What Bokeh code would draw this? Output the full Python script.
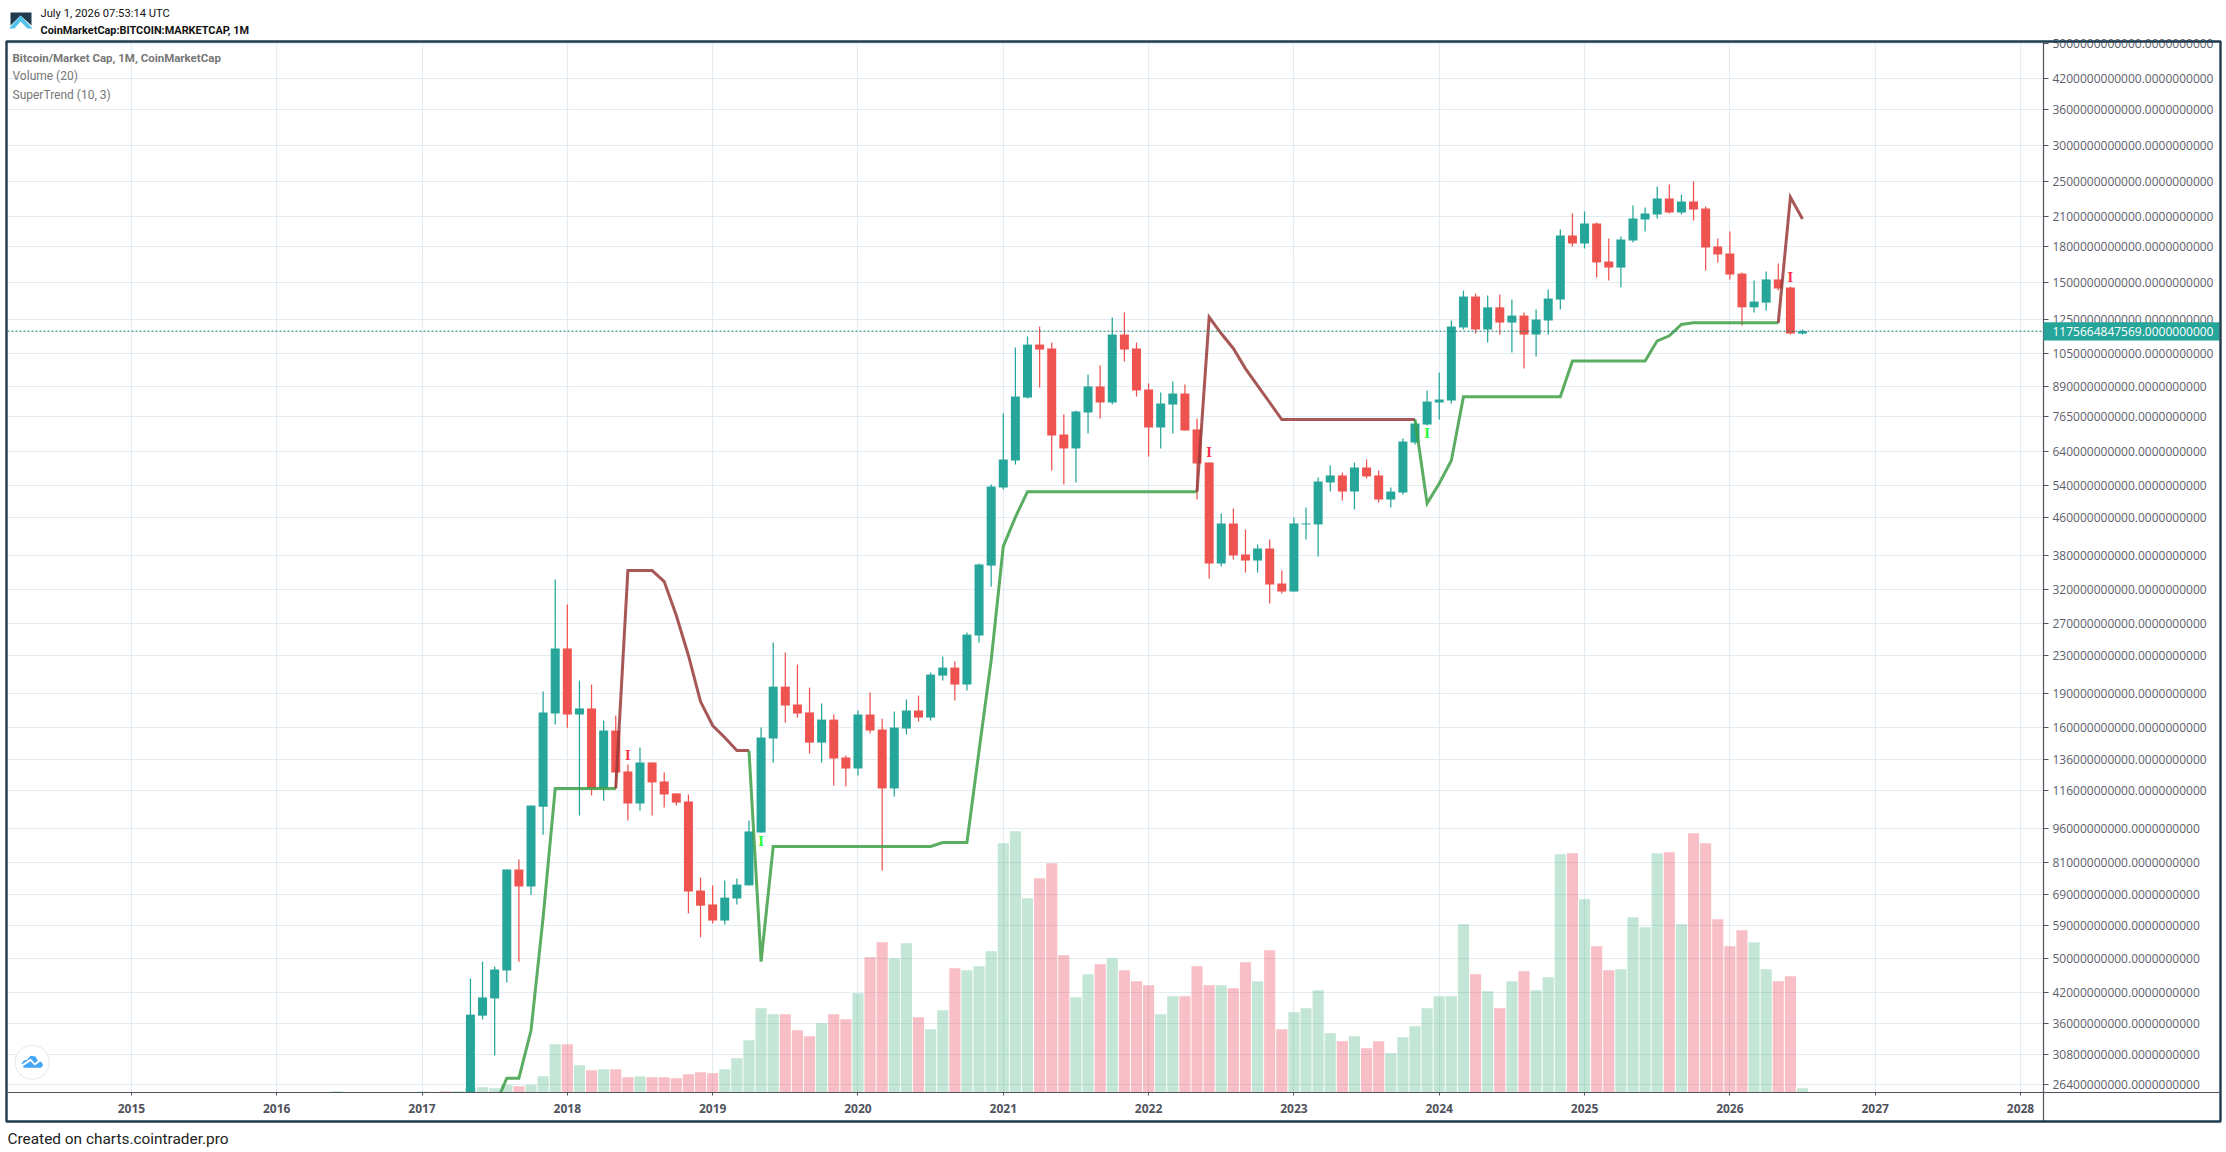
import numpy as np
from bokeh.plotting import figure
from bokeh.layouts import column
from bokeh.models import Range1d, LinearScale, FixedTicker, CustomJSTickFormatter, Span
from bokeh.core.properties import value
from bokeh.embed import file_html
from bokeh.resources import INLINE

# ---------- data (market cap in billions of USD; months counted from Jan 2018 = 0) ----------
first_month = -8
opens = [24.0,37.4,40.8,46.95,78.1,71.7,107.2,171.4,237.8,170.5,175.8,117.5,157.3,128,108.9,133.9,121.7,114.6,110,70.25,65.5,60.4,67.5,72.1,94.1,151.1,196.2,179.3,172.3,148,166.2,137.3,129.9,170.5,158.1,117.5,158.9,174,167.9,207.4,216,198.3,253.8,361,535,613,841.8,1099,1078,698.8,651.4,780.6,890,821,1156,1078,876.6,723.8,812.6,859,716.6,606.8,364.8,446.4,381.8,370.4,393.5,329.9,316.8,444.2,444.2,548.7,568.5,524.3,591.7,568.5,503.6,521.7,671.2,734.8,821,829.3,1198,1400,1186,1326,1228,1272,1156,1241,1379,1905,1829,2022,1670,1620,1857,2064,2116,2294,2138,2260,2182,1801,1739,1572,1326,1358,1526,1465,1162]
highs = [45.1,49.1,47.9,78.1,82.1,107.8,191.4,336.6,296.7,202.3,198.3,165.4,169.7,132.5,144.4,133.9,127.3,114.6,114,75,72.1,73.9,74.6,99.95,159.7,245,233,219.3,195.2,180.2,170.5,138.7,174,190.5,167,173.1,183.9,187.6,210.7,228.3,222.7,257.7,364.8,543,776.7,1083,1145,1204,1111,772.7,788.6,945,989,1260,1292,1111,903.6,863.4,912.6,899,757.4,606.8,469.4,481.3,433,401.5,411.8,352.2,459.9,483.7,562.7,597.9,577,606.8,616.1,582.9,535,684.8,753.6,872.2,955,1241,1443,1421,1407,1414,1379,1292,1312,1450,1963,2127,2149,2032,1876,1894,2215,2193,2437,2462,2341,2499,2204,1876,1943,1580,1518,1588,1654,1473,1186]
lows = [24.0,36.7,30.6,44.2,49.1,68.8,93.1,162.1,159.6,102.5,113.4,110.5,117.5,99.95,105.1,102.5,106.7,107.8,62.6,55.5,59.5,59.2,65.5,72.1,94.1,133.9,163.7,167.9,140.1,133.9,119.3,118.7,125.4,155,77.7,112.8,154.2,164.6,165.4,202.3,183,192.4,245,324.7,529.6,600.6,837.7,885.6,582.9,543,548.7,702.3,757.4,812.6,1009,846,625.4,651.4,702.3,713,503.6,338.3,359.5,372.3,348.6,348.6,298.2,313.6,316.8,411.8,378,524.3,501.1,478.9,559.9,496,483.7,516.4,664.5,731,753.6,817,1186,1162,1111,1156,1056,974,1035,1156,1312,1801,1783,1541,1518,1465,1838,1943,2074,2127,2116,2053,1596,1662,1526,1210,1292,1305,1443,1156,1156]
closes = [37.6,41.0,47.2,78.1,71.7,107.8,172.3,237.8,170.5,175.8,117.5,157.3,127.3,108.9,133.9,121.1,114,109.4,69.9,65.1,60.4,67.8,72.4,94.6,151.9,196.2,178.4,171.4,148,166.2,136.6,129.9,170.5,157.3,117.5,159.7,174,167.9,208.5,216,198.3,255,363,537.6,616,846,1099,1072,695.3,651.4,784.6,890,821,1156,1072,872.2,723.8,817,859,713,603.8,364.8,446.4,379.9,370.4,393.5,328.2,316.8,446.4,446.4,551.5,568.5,524.3,591.7,565.7,503.6,524.3,674.6,738.5,825,833.5,1204,1400,1186,1326,1228,1272,1156,1247,1386,1905,1829,2022,1662,1620,1866,2074,2127,2294,2138,2260,2171,1792,1730,1564,1326,1365,1526,1458,1162,1175.664847569]

# volume is drawn on its own hidden overlay scale (relative units)
vol_months = [-19,-12] + list(range(-10,103))
vol_values = [1.3,1,1.3,1.3,4.3,5.3,4.3,7.7,6.3,7.7,16.3,48.3,48.3,27.3,22.3,23.3,23.3,15.3,16.3,15.3,15.3,14.3,18.3,20.3,19.3,23.3,34.3,52.3,84.3,78.3,78.3,62.3,56.3,69.3,78.3,73.3,99.3,135.3,150.3,134.3,149.3,75.3,63.3,82.3,124.3,122.3,126.3,141.3,249.3,261.3,194.3,214.3,229.3,137.3,95.3,118.3,128.3,134.3,122.3,111.3,107.3,78.3,96.3,96.3,126.3,107.3,107.3,104.3,130.3,111.3,142.3,63.3,80.3,84.3,102.3,59.3,51.3,56.3,44.3,51.3,39.3,55.3,66.3,84.3,96.3,96.3,168.3,118.3,101.3,84.3,111.3,121.3,102.3,115.3,238.3,239.3,193.3,146.3,122.3,123.3,175.3,165.3,239.3,240.3,168.3,259.3,249.3,173.3,146.3,162.3,150.3,123.3,111.3,116.3,4.3]
vol_dirs = ("ggrggggg" "rggg" "rgrgrrgrrrrrr" "ggggg" "rrr" "g" "rr" "g" "rr" "gg" "r" "gg" "r" "gggggg" "rrr" "gg" "r" "g"
            "rrr" "gg" "rrr" "g" "rr" "g" "rr" "gggg" "r" "g" "rr" "ggggggg" "r" "g" "r" "g" "r" "ggg" "r" "g" "rr" "gggg" "r" "g"
            "rrrrr" "gg" "rr" "g")

st_up_m = [-6,-5,-4,-3,-2,-1,0,1,2,3,4]
st_up_v = [23.7,27.3,27.3,34.7,61.3,117.5,117.5,117.5,117.5,117.5,117.5]
st_dn1_m = [4,5,6,7,8,9,10,11,12,13,14,15]
st_dn1_v = [117.5,352.2,352.2,352.2,333.2,280.8,229.6,182,161.3,151.9,142.2,142.2]
st_up2_m = [15,16,17,30,31,33,34,35,36,37,38,52]
st_up2_v = [142.2,49.1,87.7,87.7,89.5,89.5,142.2,223.8,397.6,461,524,524]
st_dn2_m = [52,53,54,55,56,57,58,59,70]
st_dn2_v = [524,1262,1162,1078,974,894,821,753.6,753.6]
st_up3_m = [70,71,72,73,74,82,83,89,90,91,92,93,100]
st_up3_v = [753.6,494,546,613,845,845,1012,1012,1120,1149,1216,1227,1227]
st_dn3_m = [100,101,102]
st_dn3_v = [1227,2310,2070]

sig_sell_m = [5,53,101]
sig_sell_v = [138.7,635,1541]
sig_buy_m = [16,71]
sig_buy_v = [89.9,699]

year_labels = list(range(2015,2029))
price_ticks = [5000,4200,3600,3000,2500,2100,1800,1500,1250,1050,890,765,640,540,460,380,320,270,230,190,160,136,116,96,81,69,59,50,42,36,30.8,26.4]
last_price = 1175664847569.0

# ---------- main figure ----------
W, H = 2226, 1152
FL, FR, FT, FB = 7, 2043, 42, 1092
GREEN, RED = "#26a69a", "#ef5350"
p = figure(width=W, height=H, output_backend="svg", toolbar_location=None,
           y_axis_type="log", y_axis_location="right",
           x_range=Range1d(-46.23, 121.9), y_range=Range1d(25.4e9, 5034e9),
           min_border_left=FL, min_border_right=W-FR, min_border_top=FT, min_border_bottom=H-FB,
           background_fill_color="white", border_fill_color="white", outline_line_color=None,
           frame_align=False)
p.extra_y_scales = {"vol": LinearScale()}
p.extra_y_ranges = {"vol": Range1d(0, FB-FT)}

ticks = [float(t)*1e9 for t in price_ticks]
xt = [(y-2018)*12 for y in year_labels]
p.yaxis.ticker = FixedTicker(ticks=ticks)
p.yaxis.formatter = CustomJSTickFormatter(code="return tick.toFixed(10)")
p.yaxis.major_label_text_font = "Open Sans"
p.yaxis.major_label_text_font_size = "12px"
p.yaxis.major_label_text_color = "#5d606b"
p.yaxis.major_label_standoff = 4
p.yaxis.major_tick_out = 5
p.yaxis.major_tick_in = 0
p.yaxis.major_tick_line_color = "#50535e"
p.yaxis.minor_tick_line_color = None
p.yaxis.axis_line_color = "#50535e"
p.yaxis.axis_line_width = 1.2
p.xaxis.ticker = FixedTicker(ticks=xt)
p.xaxis.major_label_overrides = {m: str(y) for m, y in zip(xt, year_labels)}
p.xaxis.major_label_text_font = "Open Sans"
p.xaxis.major_label_text_font_style = "bold"
p.xaxis.major_label_text_font_size = "12px"
p.xaxis.major_label_text_color = "#50535e"
p.xaxis.major_label_standoff = 8
p.xaxis.major_tick_out = 3
p.xaxis.major_tick_in = 0
p.xaxis.major_tick_line_color = "#50535e"
p.xaxis.minor_tick_line_color = None
p.xaxis.axis_line_color = "#50535e"
p.xaxis.axis_line_width = 1.2

p.xgrid.ticker = FixedTicker(ticks=xt)
p.ygrid.ticker = FixedTicker(ticks=ticks)
p.grid.grid_line_color = "#e3ecf2"
p.grid.grid_line_width = 1.2

# volume
vx = np.array(vol_months, float); vv = np.array(vol_values, float)
vcol = ["#49b383" if c == "g" else "#ea4052" for c in vol_dirs]
p.vbar(x=vx, top=vv, bottom=0, width=0.92, fill_color=vcol, fill_alpha=0.33,
       line_color=None, y_range_name="vol")

# candles
o, h, l, c = [np.array(a, float)*1e9 for a in (opens, highs, lows, closes)]
mx = np.arange(first_month, first_month+len(o), dtype=float)
col = [GREEN if cc >= oo else RED for oo, cc in zip(o, c)]
p.segment(mx, h, mx, l, line_color=col, line_width=1.25)
p.vbar(x=mx, top=np.maximum(o, c), bottom=np.minimum(o, c), width=0.743,
       fill_color=col, line_color=None)

# supertrend
ST_G, ST_R = "#3e9f45", "#99393a"
for xs, ys, cl in [(st_up_m, st_up_v, ST_G), (st_dn1_m, st_dn1_v, ST_R),
                   (st_up2_m, st_up2_v, ST_G), (st_dn2_m, st_dn2_v, ST_R),
                   (st_up3_m, st_up3_v, ST_G), (st_dn3_m, st_dn3_v, ST_R)]:
    p.line(xs, np.array(ys)*1e9, line_color=cl, line_width=3, line_alpha=0.85, line_join="miter")

# signals
p.text(sig_sell_m, np.array(sig_sell_v)*1e9, text=["I"]*len(sig_sell_m), text_color="#ff2d45",
       text_font=value("DejaVu Serif"), text_font_style="bold", text_font_size="12px",
       text_align="center", text_baseline="middle")
p.text(sig_buy_m, np.array(sig_buy_v)*1e9, text=["I"]*len(sig_buy_m), text_color="#22ff33",
       text_font=value("DejaVu Serif"), text_font_style="bold", text_font_size="12px",
       text_align="center", text_baseline="middle")

# last-price line
p.add_layout(Span(location=last_price, dimension="width", line_color="#0f7a70", line_dash="2 2", line_width=1))

# ---------- transparent page-chrome layer on top (coordinates are page pixels) ----------
ov = figure(width=W, height=H, output_backend="svg", toolbar_location=None,
            x_range=Range1d(0, W), y_range=Range1d(H, 0),
            x_axis_location=None, y_axis_location=None,
            min_border=0, outline_line_color=None,
            background_fill_color=None, border_fill_color=None,
            margin=(-H, 0, 0, 0), frame_align=False)
ov.grid.visible = False

def rect(l, r, t, b, **kw):
    ov.quad(left=[l], right=[r], top=[t], bottom=[b], **kw)

def label(x, y, txt, font="Roboto", size="12px", color="#111", style="normal"):
    ov.text([x], [y], text=[txt], text_font=value(font), text_font_size=size, text_color=color,
            text_font_style=style, text_baseline="middle", text_align="left")

rect(FR, 2219, 321.7, 340, fill_color=GREEN, line_color=None)
label(2052, 331, f"{last_price:.10f}", font="Open Sans", size="12px", color="white")
rect(FR-0.6, FR+0.6, FB, 1121, fill_color="#50535e", line_color=None)
rect(FR, 2219, FB-0.6, FB+0.6, fill_color="#50535e", line_color=None)
rect(6, 2220, 41, 1121, fill_color=None, line_color="#1f3b4d", line_width=2.4)

label(40, 13, "July 1, 2026 07:53:14 UTC", size="11.2px")
label(40, 30, "CoinMarketCap:BITCOIN:MARKETCAP, 1M", size="10.9px", style="bold")
label(12, 57, "Bitcoin/Market Cap, 1M, CoinMarketCap", size="11.5px", color="#777", style="bold")
label(12, 75, "Volume (20)", color="#777")
label(12, 94, "SuperTrend (10, 3)", color="#777")
label(7, 1138, "Created on charts.cointrader.pro", size="15.4px", color="#222")

# logo
ov.patch([10, 31, 31, 20, 10], [12, 12, 25, 15, 25], fill_color="#1f3b4d", line_color=None)
ov.patch([20, 32, 27, 20, 14, 8.5], [15, 28, 28, 21, 28, 28], fill_color="#4fc3ea", line_color=None)

# cloud button
th = np.linspace(0, 2*np.pi, 60)
ov.patch(31.7+17*np.cos(th), 1061.7+17*np.sin(th), fill_color="white", line_color="#ececec", line_width=1.2)
zx = [63,70,80,90,105,113,122,128,122,70]
zy = [100,90,88,76,78,92,94,103,112,112]
ov.patch([v/3 for v in zx], [1030+v/3 for v in zy], fill_color="#42a5f5", line_color=None)
zx2 = [63,90,103,115,120,103,90,66]
zy2 = [103,84,98,88,92,105,92,108]
ov.patch([v/3 for v in zx2], [1030+v/3 for v in zy2], fill_color="white", line_color=None)

open("out.html", "w").write(file_html(column(p, ov), INLINE))
